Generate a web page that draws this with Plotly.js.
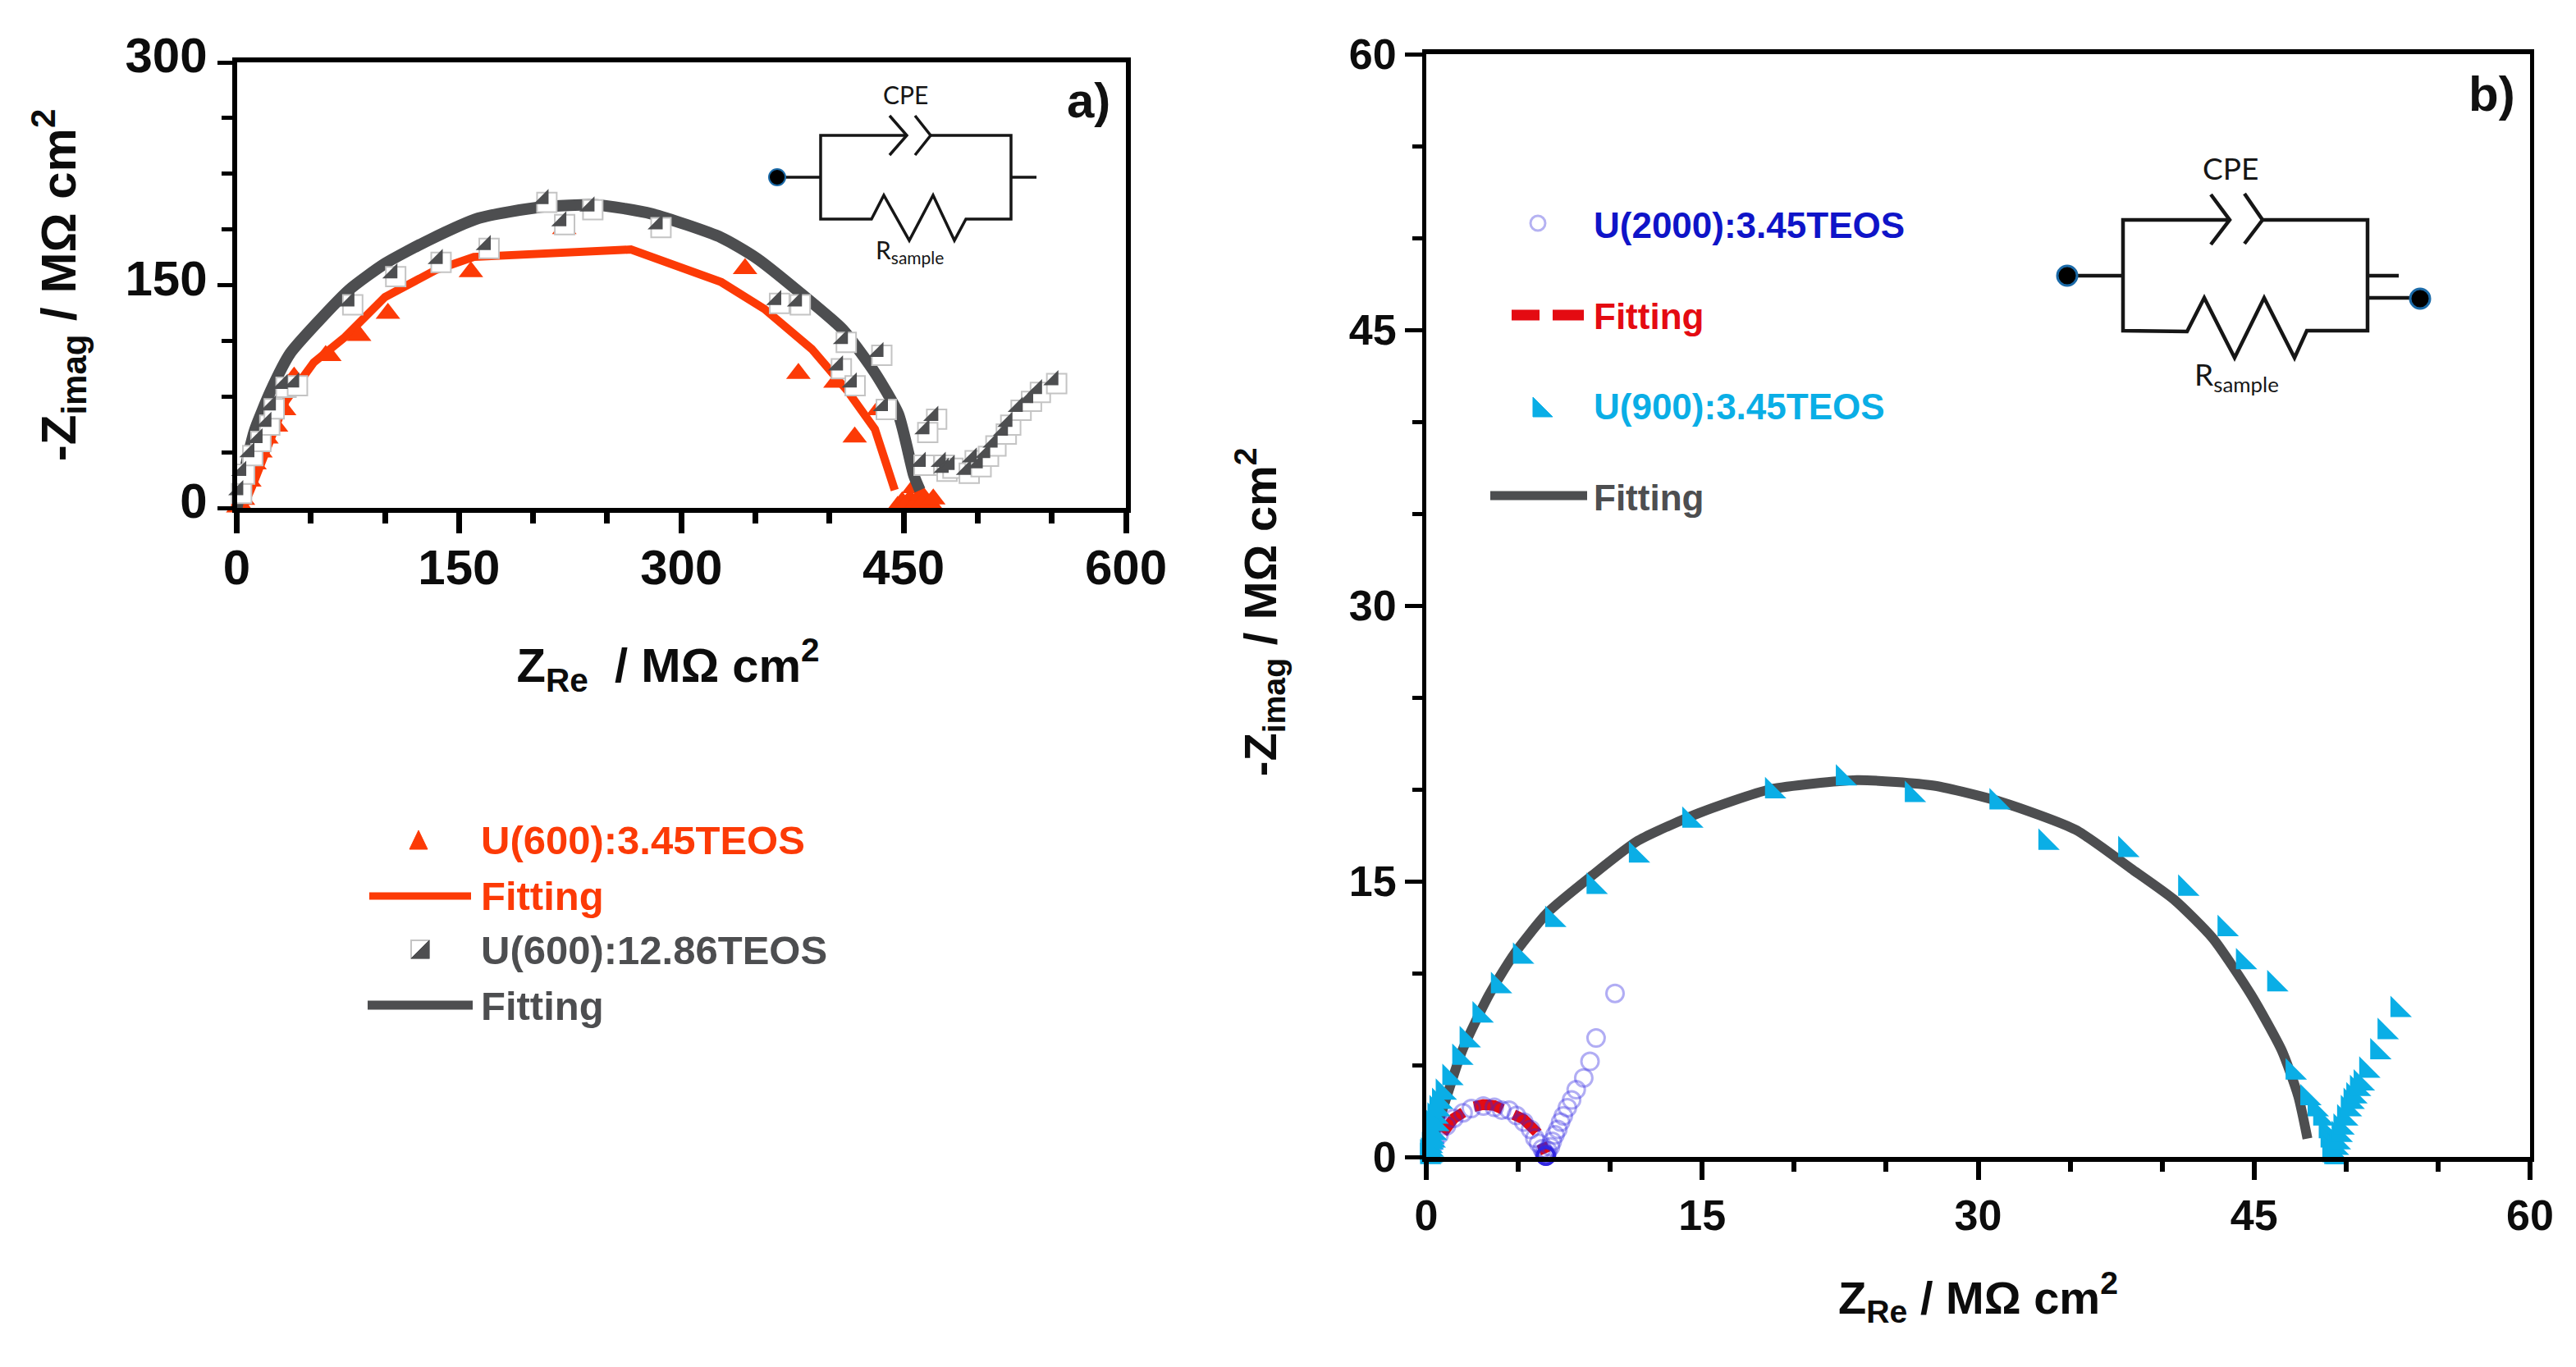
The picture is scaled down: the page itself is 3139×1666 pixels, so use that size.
<!DOCTYPE html>
<html><head><meta charset="utf-8">
<script src="https://cdn.plot.ly/plotly-3.0.1.min.js"></script>
<style>html,body{margin:0;padding:0;background:#fff}</style></head>
<body><div id="chart" style="width:3139px;height:1666px"></div>
<script>
// ---------- panel a data ----------
const redX = [1,2.5,4.2,8.5,12,16,20,26.5,32,38.7,60,62.5,82.6,102,158,221,343,379,404,433,417,444,446,449,451,452,454.4,456,457,457,460,462,462,464,468,470];
const redY = [0.5,2,5.7,18,29.5,37.5,47,55,66,88,102.5,102.5,116,131,159,188,161,90.5,84.5,66,47.6,-2,1,4,-3,2.5,5.7,-3,13.6,1,-3,9,2.5,-1,3,6];
const redFitX = [4,4.2,10.6,20,33,52,73,100,134,160,266,327,356,388,412,430.6,444];
const redFitY = [-5,0,15,37.5,72,98,115,142,160,169,174,152,134,107,79,53,12];
const grayX = [1,3,8.5,14,20,23,31,38.7,76,105,135.6,168,207,219,238,284,364,378,409,433,405.7,415,436,470,464,461.5,475,477,481,492,496,500,505,510,517,520,527,534,540,551];
const grayY = [12,25,37.5,47,58,69,83.5,84.5,139,158,167.6,177,208,193,203,191,140,139,113.7,105,96,84.5,68.6,62,53,31,31,27,29,25.6,34,30,37,44,52,58,68,74,80,86];
const grayFitX = [-1,0,5.3,12,23,36,54.5,76,100,129,163,205.5,243,280,327,351,380,409,430.6,446.5,457,461];
const grayFitY = [-5,0,25,52,79,104,125,147,164.5,180,195,202.6,204,198,182,168,145,120,91,63,21.6,12];
// ---------- panel b data ----------
const cyanX = [0.05,0.05,0.1,0.1,0.15,0.15,0.19,0.2,0.23,0.25,0.3,0.33,0.38,0.45,0.5,0.56,0.7,0.9,1.26,1.8,2.2,2.9,3.9,5.1,6.85,9.1,11.4,14.3,18.8,22.65,26.4,31,33.66,38,41.26,43.4,44.4,46.1,47.1,47.9,48.3,48.6,48.9,49,49.1,49.1,49.2,49.2,49.3,49.3,49.4,49.4,49.5,49.6,49.7,49.9,50.1,50.25,50.4,50.6,50.8,51.1,51.7,52.1,52.8];
const cyanY = [0,0.2,0.05,0.3,0.1,0.6,0.8,0.4,1.1,1.4,0.9,1.85,1.3,2.2,1.8,2.6,3,3.5,4.3,5.4,6.35,7.7,9.3,10.9,12.9,14.7,16.4,18.3,19.9,20.6,19.7,19.3,17.1,16.7,14.6,12.4,10.6,9.4,4.6,3.2,2.6,2.1,1.4,0.9,0.4,0.1,0,0.3,0,0.2,0.1,0.5,0.8,1.2,1.6,2.1,2.6,3,3.3,3.7,4,4.7,5.7,6.8,8];
const cyanFitX = [0.1,0.8,1.96,3.4,4.75,6.6,9,11.5,14.8,18.7,23.4,27.6,31.3,35.3,38.3,40.65,42.75,44.85,46.5,47.4,47.9];
const cyanFitY = [0,2.3,5.8,8.8,11,13.3,15.3,17.2,18.7,20,20.5,20.2,19.3,17.8,15.7,14,11.9,8.8,5.8,3.3,1];
const blueX = [0.25,0.45,0.7,1.1,1.5,2,2.45,3.1,3.7,4.1,4.5,4.9,5.3,5.67,5.9,6.1,6.3,6.4,6.45,6.5,6.5,6.5,6.5,6.5,6.5,6.5,6.5,6.5,6.5,6.52,6.55,6.6,6.75,6.85,7,7.15,7.3,7.45,7.67,7.9,8.15,8.56,8.9,9.23,10.26];
const blueY = [0.3,0.7,1.2,1.7,2.1,2.4,2.63,2.77,2.7,2.55,2.55,2.25,1.9,1.5,1.03,0.75,0.45,0.25,0.15,0.05,0.05,0.05,0.05,0.05,0.05,0.05,0.05,0.05,0.1,0.1,0.15,0.35,0.55,0.85,1.2,1.5,1.9,2.23,2.68,3.1,3.66,4.3,5.2,6.47,8.9];
const blueFitX = [0.9,1.5,2.45,3.1,3.7,4.9,5.3,6,6.5];
const blueFitY = [1.3,2.1,2.7,2.85,2.8,2.35,2.05,1.35,0.2];
// ---------- axis tick labels ----------
const xTicksA = [0,150,300,450,600], yTicksA = [0,150,300];
const xTicksB = [0,15,30,45,60],    yTicksB = [0,15,30,45,60];
// ---------- text ----------
const legendA = ["U(600):3.45TEOS","Fitting","U(600):12.86TEOS","Fitting"];
const legendB = ["U(2000):3.45TEOS","Fitting","U(900):3.45TEOS","Fitting"];

const W=3139,H=1666;
const px=x=>x/W, py=y=>1-y/H;
const RED='#fc3a06', GRAY='#4d4e50', CYAN='#0aaee6', FIT='#e40b12';
const FONT='"Liberation Sans", Arial, sans-serif';

const halfKw = {mode:'markers',cliponaxis:false,showlegend:false,hoverinfo:'x+y'};
const data = [
 {name:'Fitting',x:redFitX,y:redFitY,mode:'lines',line:{color:RED,width:10},cliponaxis:false,showlegend:false},
 {name:'U(600):3.45TEOS',x:redX,y:redY,...halfKw,marker:{symbol:'triangle-up',size:26,color:RED}},
 {name:'Fitting',x:grayFitX,y:grayFitY,mode:'lines',line:{color:GRAY,width:14,shape:'spline',smoothing:0.6},cliponaxis:false,showlegend:false},
 {name:'U(600):12.86TEOS',x:grayX,y:grayY,...halfKw,marker:{symbol:'diamond',size:26,angle:-45,standoff:5.8,color:'#fff',line:{color:'#c4c4c4',width:2}}},
 {name:'U(600):12.86TEOS',x:grayX,y:grayY,...halfKw,marker:{symbol:'triangle-se',size:20.5,color:GRAY}},
 {name:'Fitting',x:cyanFitX,y:cyanFitY,xaxis:'x2',yaxis:'y2',mode:'lines',line:{color:GRAY,width:12,shape:'spline',smoothing:0.6},cliponaxis:false,showlegend:false},
 {name:'Fitting',x:blueFitX,y:blueFitY,xaxis:'x2',yaxis:'y2',mode:'lines',line:{color:FIT,width:13,dash:'36px,15px'},cliponaxis:false,showlegend:false},
 {name:'U(2000):3.45TEOS',x:blueX,y:blueY,xaxis:'x2',yaxis:'y2',...halfKw,marker:{symbol:'circle-open',size:21,color:'rgba(50,40,225,0.38)',line:{width:3,color:'rgba(50,40,225,0.38)'}}},
 {name:'U(900):3.45TEOS',x:cyanX,y:cyanY,xaxis:'x2',yaxis:'y2',...halfKw,marker:{symbol:'triangle-sw',size:29,color:CYAN}},
];

function axis(opts){
  return Object.assign({
    showgrid:false,zeroline:false,showline:true,linecolor:'#000',mirror:true,
    ticks:'outside',tickcolor:'#000',tickmode:'array',
    tickfont:{family:FONT,size:opts.fs,color:'#0c0c0c',weight:700},
    title:{}
  },opts.o);
}
const TF=s=>({family:FONT,size:s,color:'#0c0c0c',weight:700});
const layout={
  width:W,height:H,autosize:false,paper_bgcolor:'#fff',plot_bgcolor:'rgba(0,0,0,0)',
  margin:{l:0,r:0,t:0,b:0},showlegend:false,
  xaxis:axis({fs:60,o:{domain:[px(288.5),px(1372)],range:[0,600],tickvals:xTicksA,ticktext:xTicksA.map(String),
    linewidth:6,ticklen:25,tickwidth:7,minor:{dtick:50,tick0:0,ticks:'outside',ticklen:13,tickwidth:7,tickcolor:'#000',showgrid:false},
    ticklabelstandoff:-10,
    title:{text:'<b>Z<sub>Re</sub>&nbsp; / MΩ cm<sup>2</sup>&nbsp;&nbsp;</b>',font:TF(58),standoff:68}}}),
  yaxis:axis({fs:60,o:{domain:[py(619),py(76)],range:[0,300],tickvals:yTicksA,ticktext:yTicksA.map(String),
    linewidth:6,ticklen:18,tickwidth:5,minor:{dtick:37.5,tick0:0,ticks:'outside',ticklen:13,tickwidth:5,tickcolor:'#000',showgrid:false},
    ticklabelshift:-9,
    title:{text:'<b>-Z<sub>imag</sub> / MΩ cm<sup>2</sup></b>',font:TF(60),standoff:42}}}),
  xaxis2:axis({fs:52,o:{anchor:'y2',domain:[px(1738),px(3083)],range:[0,60],tickvals:xTicksB,ticktext:xTicksB.map(String),
    linewidth:6,ticklen:22,tickwidth:6,minor:{dtick:5,tick0:0,ticks:'outside',ticklen:12,tickwidth:6,tickcolor:'#000',showgrid:false},
    ticklabelstandoff:-1,
    title:{text:'<b>Z<sub>Re</sub> / MΩ cm<sup>2</sup></b>',font:TF(56),standoff:54}}}),
  yaxis2:axis({fs:52,o:{anchor:'x2',domain:[py(1410),py(66)],range:[0,60],tickvals:yTicksB,ticktext:yTicksB.map(String),
    linewidth:5,ticklen:21,tickwidth:5,minor:{dtick:5,tick0:0,ticks:'outside',ticklen:12,tickwidth:5,tickcolor:'#000',showgrid:false},
    title:{text:'<b>-Z<sub>imag</sub> / MΩ cm<sup>2</sup>&nbsp;</b>',font:TF(56),standoff:72}}}),
  shapes:[],annotations:[]
};
// decoration helpers: the hand-drawn circuit insets and legend keys, in page pixels
function poly(pts,color,w,fill){
  const d=pts.map((p,i)=>(i?'L':'M')+px(p[0]).toFixed(5)+','+py(p[1]).toFixed(5)).join(' ')+(fill?' Z':'');
  layout.shapes.push({type:'path',xref:'paper',yref:'paper',path:d,line:{color:color,width:w},fillcolor:fill||'rgba(0,0,0,0)',layer:'above'});
}
function dot(x,y,r,fill,lc,lw){
  layout.shapes.push({type:'circle',xref:'paper',yref:'paper',x0:px(x-r),x1:px(x+r),y0:py(y+r),y1:py(y-r),fillcolor:fill,line:{color:lc,width:lw},layer:'above'});
}
function label(x,y,text,size,color,weight,family){
  layout.annotations.push({xref:'paper',yref:'paper',x:px(x),y:py(y),text:text,showarrow:false,xanchor:'center',yanchor:'middle',
    font:{family:family||FONT,size:size,color:color,weight:weight||400}});
}
function leftLabel(x,y,text,size,color){
  layout.annotations.push({xref:'paper',yref:'paper',x:px(x),y:py(y),text:'<b>'+text+'</b>',showarrow:false,xanchor:'left',yanchor:'middle',xshift:-2,
    font:{family:FONT,size:size,color:color,weight:700}});
}
// panel tags
label(1326,122,'<b>a)</b>',60,'#111',700);
label(3036,114,'<b>b)</b>',60,'#111',700);
// circuit a
const K='#161616', LATO='Lato, sans-serif';
poly([[947,216],[1000,216]],K,3.5);
poly([[1105,165],[1000,165],[1000,267],[1062,267],[1077,238],[1108,293],[1137,238],[1163,293],[1177,267],[1232,267],[1232,165],[1134,165]],K,3.5);
poly([[1084,141],[1105,165],[1084,189]],K,3.5);
poly([[1115,141],[1134,165],[1115,189]],K,3.5);
poly([[1232,216],[1263,216]],K,3.5);
dot(947,216,10,'#000','#1b6aa8',2);
label(1103,115,'CPE',30,K,400,LATO);
label(1108,306,'R<sub>sample</sub>',30,K,400,LATO);
// circuit b
poly([[2519,336],[2587,336]],K,4.5);
poly([[2717,268],[2587,268],[2587,403],[2665,404],[2686,363],[2723,436],[2759,363],[2796,436],[2811,403],[2885,403],[2885,268],[2757,268]],K,4.5);
poly([[2694,237],[2717,268],[2694,298]],K,4.5);
poly([[2735,236],[2757,268],[2735,297]],K,4.5);
poly([[2885,336],[2923,336]],K,4.5);
poly([[2885,363],[2942,363]],K,4.5);
dot(2519,336,12,'#000','#1b6aa8',3);
dot(2949,364,12,'#000','#1b6aa8',3);
label(2718,204,'CPE',37,K,400,LATO);
label(2725,458,'R<sub>sample</sub>',37,K,400,LATO);
// legend a
const ax=586;
[1024,1092,1158,1226].forEach((y,i)=>leftLabel(ax,y,legendA[i],49,[RED,RED,GRAY,GRAY][i]));
poly([[499,1035],[521,1035],[510,1012]],RED,1,RED);
poly([[450,1092],[574,1092]],RED,9);
poly([[501,1146],[523,1146],[523,1168],[501,1168]],'#c4c4c4',2,'#fff');
poly([[523,1146],[523,1168],[501,1168]],GRAY,1,GRAY);
poly([[448,1225],[576,1225]],GRAY,11);
// legend b
const bx=1942;
[274,386,496,606].forEach((y,i)=>leftLabel(bx,y,legendB[i],44,['#0f14c8',FIT,CYAN,GRAY][i]));
dot(1874,272,9,'rgba(0,0,0,0)','#b5b2f2',3);
poly([[1842,384],[1876,384]],FIT,13);
poly([[1892,384],[1930,384]],FIT,13);
poly([[1868,484],[1868,508],[1892,508]],CYAN,1,CYAN);
poly([[1816,604],[1934,604]],GRAY,11);

Plotly.newPlot('chart',data,layout,{displayModeBar:false,staticPlot:true});
</script></body></html>
